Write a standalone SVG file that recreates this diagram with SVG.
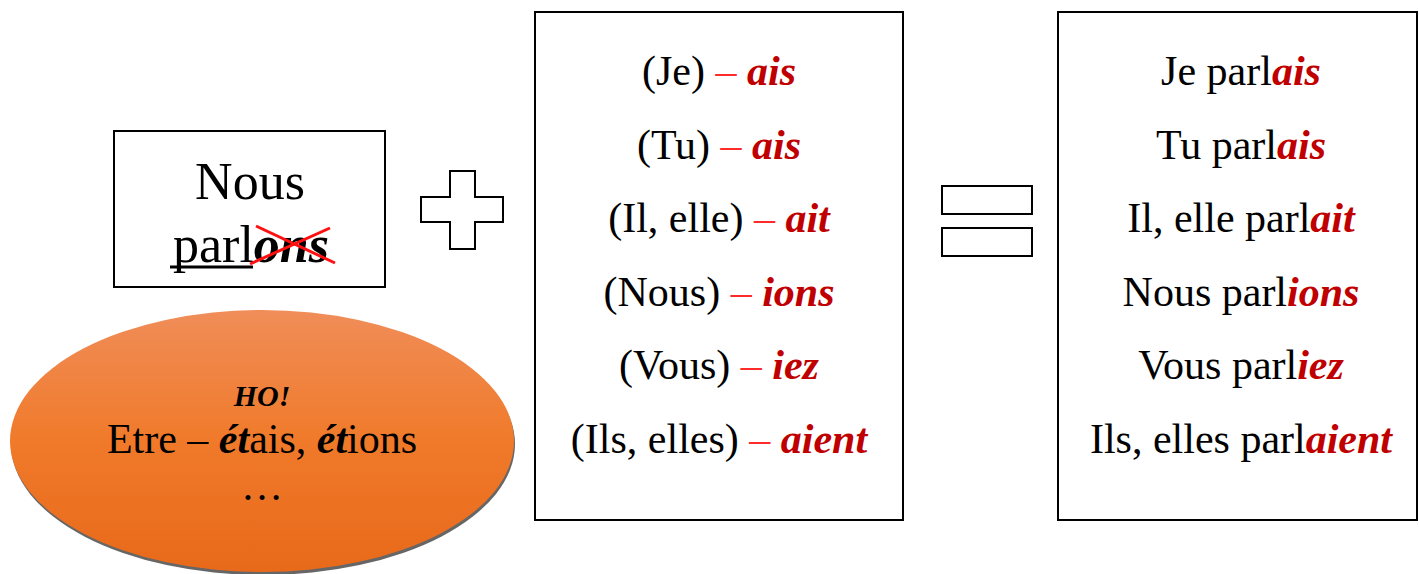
<svg xmlns="http://www.w3.org/2000/svg" width="1419" height="574" viewBox="0 0 1419 574">
<style>
.t{font-family:"Liberation Serif","Times New Roman",serif;fill:#000;text-anchor:middle}
.b{stroke:#000;stroke-width:2;fill:#fff}
.e{font-weight:bold;font-style:italic;fill:#c00000}
.d{fill:#ff2a2a}
.bi{font-weight:bold;font-style:italic}
</style>
<defs>
<linearGradient id="og" x1="0" y1="0" x2="0" y2="1">
<stop offset="0" stop-color="#f08d59"/>
<stop offset="0.5" stop-color="#f07a2a"/>
<stop offset="1" stop-color="#e8691a"/>
</linearGradient>
</defs>
<rect width="1419" height="574" fill="#fff"/>
<g id="nous">
<rect class="b" x="114" y="131" width="271" height="156"/>
<text class="t" x="250" y="199" font-size="52">Nous</text>
<text class="t" x="251" y="262" font-size="52">parl<tspan class="bi">ons</tspan></text>
<line x1="170" y1="267" x2="253" y2="267" stroke="#000" stroke-width="3"/>
<line x1="250" y1="264" x2="330" y2="228" stroke="#ff1010" stroke-width="3"/>
<line x1="256" y1="226" x2="335" y2="263" stroke="#ff1010" stroke-width="3"/>
</g>
<g id="ho">
<ellipse cx="263" cy="444" rx="252" ry="131" fill="#666"/>
<ellipse cx="262" cy="441" rx="252" ry="131" fill="url(#og)"/>
<text class="t bi" x="262" y="406" font-size="30">HO!</text>
<text class="t" x="262" y="453" font-size="42">Etre – <tspan class="bi">ét</tspan>ais, <tspan class="bi">ét</tspan>ions</text>
<text class="t" x="262" y="500" font-size="42">…</text>
</g>
<g id="plus">
<path class="b" d="M450 171 H475 V197 H503 V222 H475 V249 H450 V222 H421 V197 H450 Z"/>
</g>
<g id="endings">
<rect class="b" x="535" y="12" width="368" height="508"/>
<text class="t" x="719" y="85" font-size="42">(Je) <tspan class="d">–</tspan> <tspan class="e">ais</tspan></text>
<text class="t" x="719" y="159" font-size="42">(Tu) <tspan class="d">–</tspan> <tspan class="e">ais</tspan></text>
<text class="t" x="719" y="232" font-size="42">(Il, elle) <tspan class="d">–</tspan> <tspan class="e">ait</tspan></text>
<text class="t" x="719" y="306" font-size="42">(Nous) <tspan class="d">–</tspan> <tspan class="e">ions</tspan></text>
<text class="t" x="719" y="379" font-size="42">(Vous) <tspan class="d">–</tspan> <tspan class="e">iez</tspan></text>
<text class="t" x="719" y="453" font-size="42">(Ils, elles) <tspan class="d">–</tspan> <tspan class="e">aient</tspan></text>
</g>
<g id="equals">
<rect class="b" x="942" y="186" width="90" height="28"/>
<rect class="b" x="942" y="228" width="90" height="28"/>
</g>
<g id="result">
<rect class="b" x="1058" y="12" width="359" height="508"/>
<text class="t" x="1241" y="85" font-size="42">Je parl<tspan class="e">ais</tspan></text>
<text class="t" x="1241" y="159" font-size="42">Tu parl<tspan class="e">ais</tspan></text>
<text class="t" x="1241" y="232" font-size="42">Il, elle parl<tspan class="e">ait</tspan></text>
<text class="t" x="1241" y="306" font-size="42">Nous parl<tspan class="e">ions</tspan></text>
<text class="t" x="1241" y="379" font-size="42">Vous parl<tspan class="e">iez</tspan></text>
<text class="t" x="1241" y="453" font-size="42">Ils, elles parl<tspan class="e">aient</tspan></text>
</g>
<g id="connectors"></g>
</svg>
